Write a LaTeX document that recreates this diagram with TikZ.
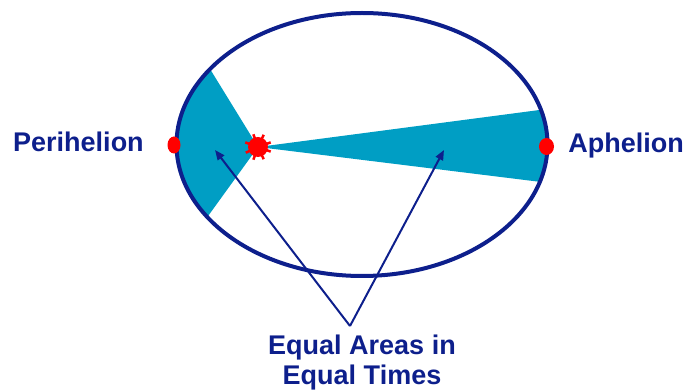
\documentclass[tikz,border=0pt]{standalone}
\usepackage{fontspec}
\setmainfont{Liberation Sans}
\usetikzlibrary{arrows.meta,calc}
\definecolor{OrbitClr}{rgb}{0.05,0.12,0.55}
\definecolor{AreaClr}{rgb}{0,0.62,0.77}
\definecolor{SunClr}{rgb}{1,0,0}

\begin{document}
\begin{tikzpicture}[x=1pt,y=1pt,
  lbl/.style={text=OrbitClr,font=\fontsize{27}{30}\selectfont\bfseries,inner sep=0pt},
  pointer/.style={OrbitClr,line width=2pt,-{Triangle[length=10pt,width=8pt]}}]
\useasboundingbox (0,0) rectangle (686,391);

\coordinate (O) at (362,246.5);
\coordinate (S) at (258,244);
\coordinate (P) at (174,246);
\coordinate (A) at (546.5,244.5);

% equal areas
\fill[AreaClr] (S) -- ($(O)+(145:185.5 and 131.5)$)
  arc[start angle=145,end angle=213.5,x radius=185.5,y radius=131.5] -- cycle;
\fill[AreaClr] (S) -- ($(O)+(-16.5:185.5 and 131.5)$)
  arc[start angle=-16.5,end angle=15.3,x radius=185.5,y radius=131.5] -- cycle;

\draw[OrbitClr,line width=4pt] (O) ellipse[x radius=185.5,y radius=131.5];

% sun
\foreach \a in {20,65,110,160,205,250,295,340}
  \draw[SunClr,line width=2.5pt] (S) -- ++(\a:13.5);
\fill[SunClr] (S) circle[radius=10];

\fill[SunClr] (P) ellipse[x radius=6.5,y radius=8.5];
\fill[SunClr] (A) ellipse[x radius=7.5,y radius=8.5];

\node[lbl,anchor=base west] (peri) at (13,239) {Perihelion};
\node[lbl,anchor=base east] (aph) at (684,238) {Aphelion};
\node[lbl,anchor=base,align=center] (eq) at (362,6.5) {Equal Areas in\\Equal Times};

\coordinate (M) at (350,65);
\coordinate (T1) at (215,241);
\coordinate (T2) at (444,241);
\draw[pointer] (M) -- (T1);
\draw[pointer] (M) -- (T2);

\end{tikzpicture}
\end{document}
